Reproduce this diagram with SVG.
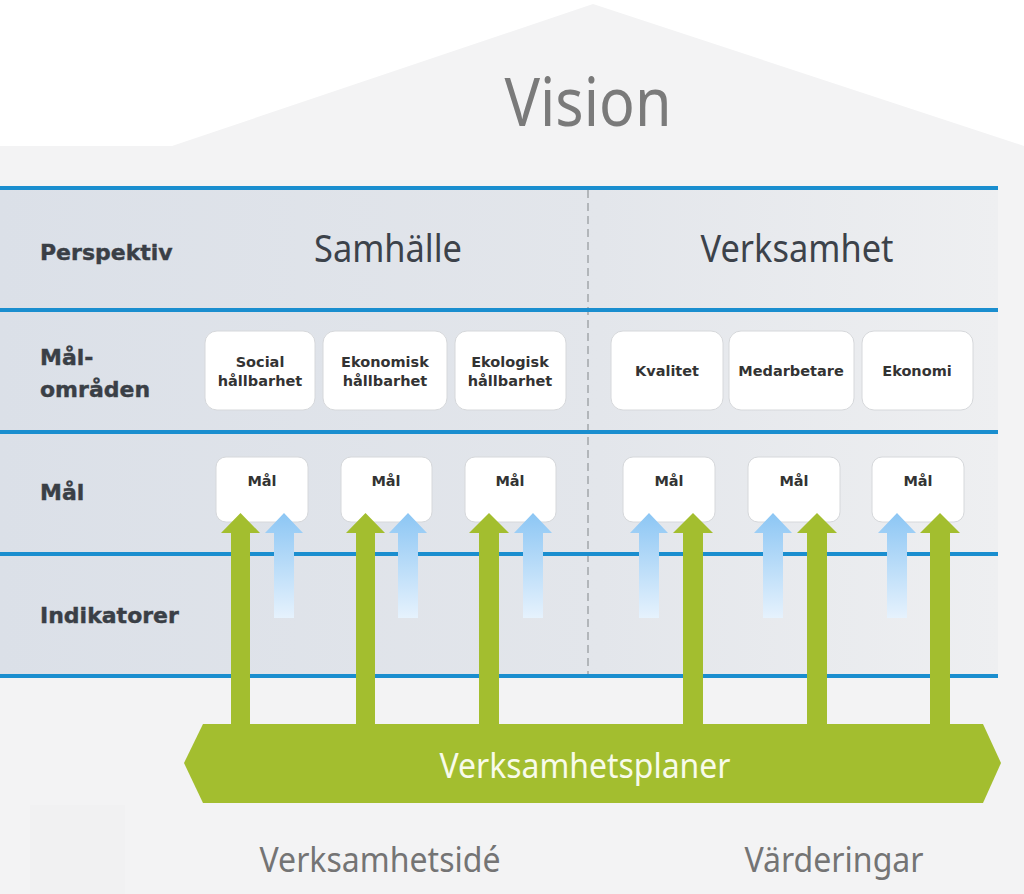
<svg xmlns="http://www.w3.org/2000/svg" width="1024" height="894" viewBox="0 0 1024 894">
<defs>
<linearGradient id="band" x1="0" y1="0" x2="1" y2="0">
<stop offset="0" stop-color="#dbe0e8"/>
<stop offset="0.6" stop-color="#e3e6eb"/>
<stop offset="1" stop-color="#eeeff1"/>
</linearGradient>
<linearGradient id="blueArrow" x1="0" y1="0" x2="0" y2="1">
<stop offset="0" stop-color="#8cc6f4"/>
<stop offset="1" stop-color="#e6f2fd"/>
</linearGradient>
<style>
.lbl{font-family:"DejaVu Sans",Verdana,sans-serif;font-weight:bold;font-size:22px;fill:#3a3f46;stroke:#3a3f46;stroke-width:0.4}
.box{fill:#ffffff;stroke:#d6d8db;stroke-width:1}
.bt{font-family:"DejaVu Sans",Verdana,sans-serif;font-weight:bold;font-size:14.5px;fill:#333333;text-anchor:middle}
.big{font-family:"Noto Sans","Open Sans",sans-serif;text-anchor:middle}
.rule{stroke:#1a8ecf;stroke-width:4}
.green{fill:#a3be2f}
.blue{fill:url(#blueArrow)}
</style>
</defs>
<rect x="0" y="0" width="1024" height="894" fill="#ffffff"/>
<!-- house -->
<polygon points="0,146 172,146 593,4 1024,146 1024,894 0,894" fill="#f3f3f4"/>
<rect x="30" y="805" width="95" height="89" fill="#f1f1f2"/>
<!-- band -->
<rect x="0" y="188" width="998" height="488" fill="url(#band)"/>
<line x1="588" y1="190" x2="588" y2="676" stroke="#a3a6aa" stroke-width="1.5" stroke-dasharray="8,5"/>
<g id="rules">
<line class="rule" x1="0" y1="188" x2="998" y2="188"/>
<line class="rule" x1="0" y1="310" x2="998" y2="310"/>
<line class="rule" x1="0" y1="432" x2="998" y2="432"/>
<line class="rule" x1="0" y1="554" x2="998" y2="554"/>
<line class="rule" x1="0" y1="676" x2="998" y2="676"/>
</g>
<text id="vision" class="big" x="588" y="126" font-size="68" fill="#7a7a7a" textLength="167" lengthAdjust="spacingAndGlyphs">Vision</text>
<!-- row labels -->
<text class="lbl" x="40" y="260">Perspektiv</text>
<text class="lbl" x="40" y="365">Mål-</text>
<text class="lbl" x="40" y="397">områden</text>
<text class="lbl" x="40" y="500">Mål</text>
<text class="lbl" x="40" y="623">Indikatorer</text>
<text id="samhalle" class="big" x="388" y="262" font-size="38" fill="#3c424a" textLength="148" lengthAdjust="spacingAndGlyphs">Samhälle</text>
<text id="verksamhet" class="big" x="797" y="262" font-size="38" fill="#3c424a" textLength="193" lengthAdjust="spacingAndGlyphs">Verksamhet</text>
<!-- mål-områden boxes -->
<g id="social"><rect class="box" x="205" y="331" width="110" height="79" rx="12"/><text class="bt" x="260" y="367">Social</text><text class="bt" x="260" y="386">hållbarhet</text></g>
<g id="ekonomisk"><rect class="box" x="323" y="331" width="124" height="79" rx="12"/><text class="bt" x="385" y="367">Ekonomisk</text><text class="bt" x="385" y="386">hållbarhet</text></g>
<g id="ekologisk"><rect class="box" x="455" y="331" width="111" height="79" rx="12"/><text class="bt" x="510" y="367">Ekologisk</text><text class="bt" x="510" y="386">hållbarhet</text></g>
<g id="kvalitet"><rect class="box" x="611" y="331" width="112" height="79" rx="12"/><text class="bt" x="667" y="376">Kvalitet</text></g>
<g id="medarbetare"><rect class="box" x="729" y="331" width="125" height="79" rx="12"/><text class="bt" x="791" y="376">Medarbetare</text></g>
<g id="ekonomi"><rect class="box" x="862" y="331" width="111" height="79" rx="12"/><text class="bt" x="917" y="376">Ekonomi</text></g>
<!-- mål boxes -->
<g id="mal1"><rect class="box" x="216" y="457" width="92" height="65" rx="10"/><text class="bt" x="262" y="486">Mål</text></g>
<g id="mal2"><rect class="box" x="341" y="457" width="91" height="65" rx="10"/><text class="bt" x="386" y="486">Mål</text></g>
<g id="mal3"><rect class="box" x="465" y="457" width="91" height="65" rx="10"/><text class="bt" x="510" y="486">Mål</text></g>
<g id="mal4"><rect class="box" x="623" y="457" width="92" height="65" rx="10"/><text class="bt" x="669" y="486">Mål</text></g>
<g id="mal5"><rect class="box" x="748" y="457" width="92" height="65" rx="10"/><text class="bt" x="794" y="486">Mål</text></g>
<g id="mal6"><rect class="box" x="872" y="457" width="92" height="65" rx="10"/><text class="bt" x="918" y="486">Mål</text></g>
<!-- arrows -->
<g id="connectors">
<path class="blue" d="M274,618 V533 H265 L284,513 L303,533 H294 V618 Z"/>
<path class="blue" d="M398,618 V533 H389 L408,513 L427,533 H418 V618 Z"/>
<path class="blue" d="M523,618 V533 H514 L533,513 L552,533 H543 V618 Z"/>
<path class="blue" d="M639,618 V533 H630 L649,513 L668,533 H659 V618 Z"/>
<path class="blue" d="M763,618 V533 H754 L773,513 L792,533 H783 V618 Z"/>
<path class="blue" d="M887,618 V533 H878 L897,513 L916,533 H907 V618 Z"/>
<path class="green" d="M231,726 V533 H221 L240.5,513 L260,533 H250 V726 Z"/>
<path class="green" d="M356,726 V533 H346 L365.5,513 L385,533 H375 V726 Z"/>
<path class="green" d="M479,726 V533 H469 L489,513 L509,533 H499 V726 Z"/>
<path class="green" d="M683,726 V533 H673 L693,513 L713,533 H703 V726 Z"/>
<path class="green" d="M807,726 V533 H797 L817,513 L837,533 H827 V726 Z"/>
<path class="green" d="M930,726 V533 H920 L940,513 L960,533 H950 V726 Z"/>
</g>
<g id="verksamhetsplaner">
<polygon class="green" points="184,763 203,724 983,724 1001,763 983,803 203,803"/>
<text class="big" x="585" y="778" font-size="35" fill="#f8fbea" textLength="291" lengthAdjust="spacingAndGlyphs">Verksamhetsplaner</text>
</g>
<text id="verksamhetside" class="big" x="380" y="872" font-size="35" fill="#747474" textLength="241" lengthAdjust="spacingAndGlyphs">Verksamhetsidé</text>
<text id="varderingar" class="big" x="834" y="872" font-size="35" fill="#747474" textLength="179" lengthAdjust="spacingAndGlyphs">Värderingar</text>
</svg>
